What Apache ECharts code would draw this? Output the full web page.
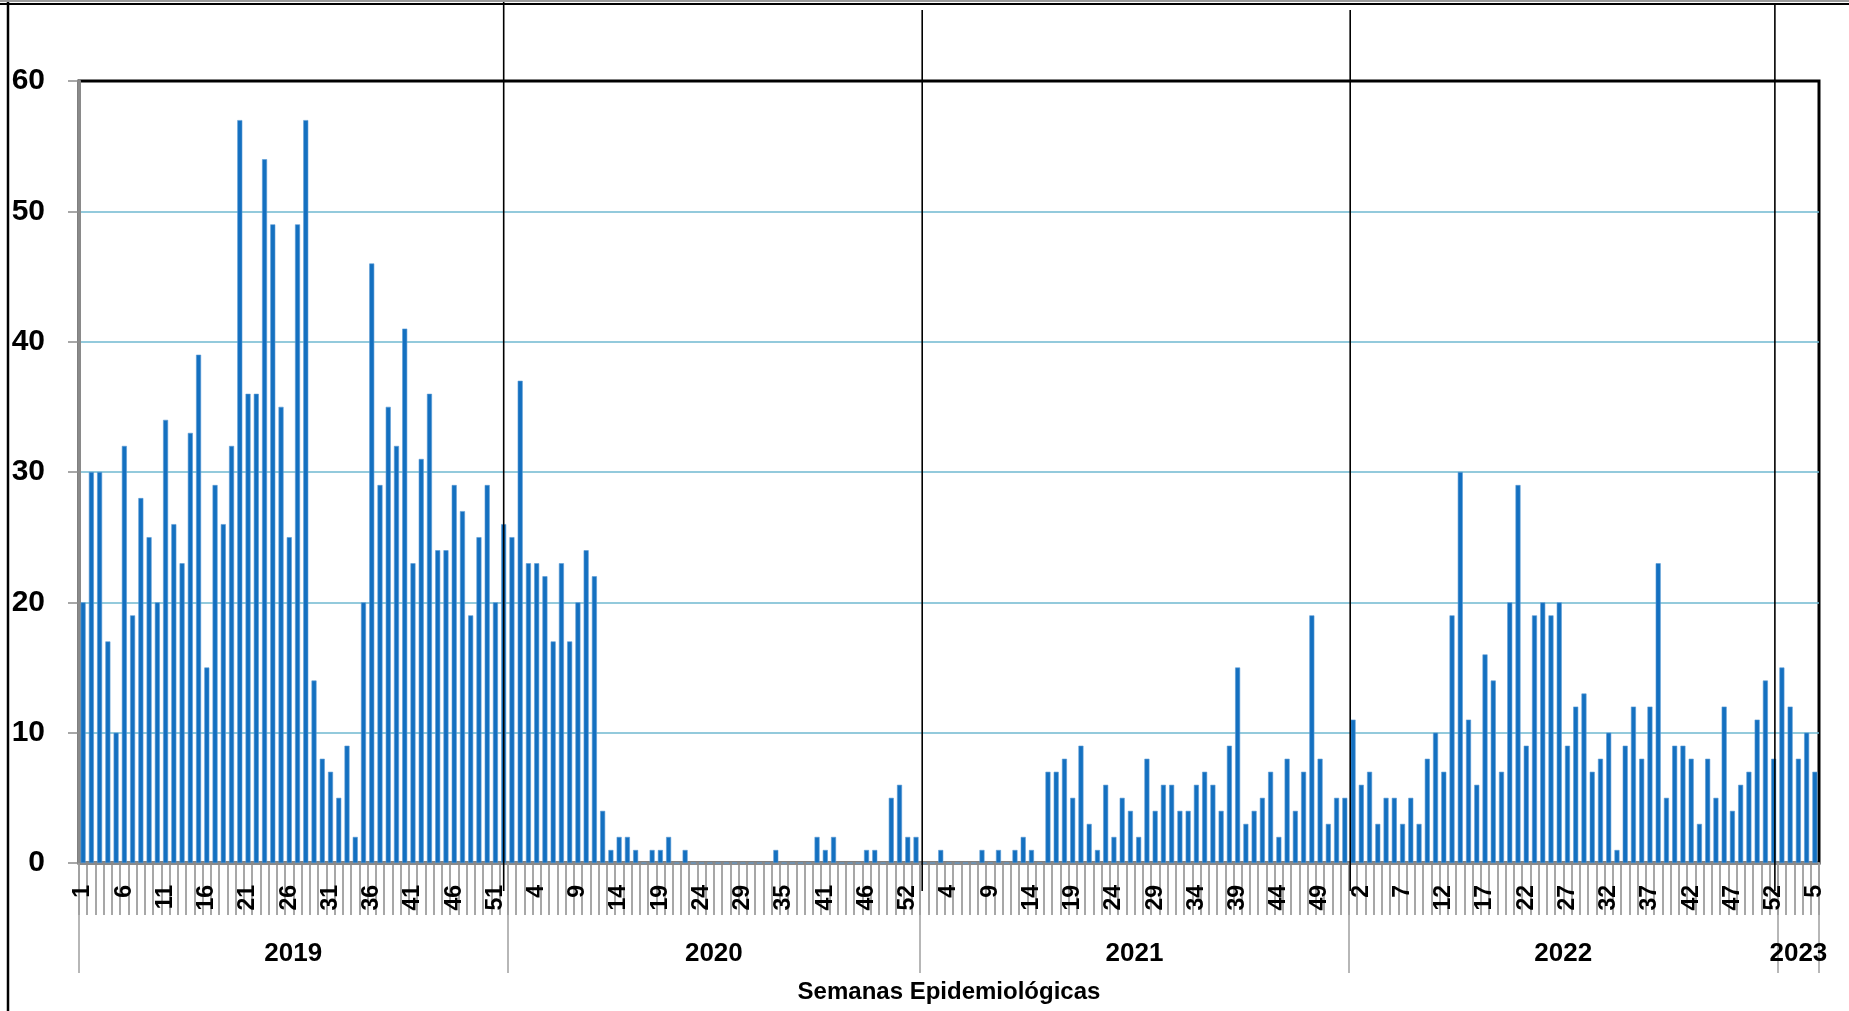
<!DOCTYPE html>
<html>
<head>
<meta charset="utf-8">
<script src="https://cdn.jsdelivr.net/npm/echarts@6/dist/echarts.min.js"></script>
<style>
html,body{margin:0;padding:0;background:#fff;}
#chart{width:1849px;height:1011px;}
</style>
</head>
<body>
<div id="chart"></div>
<script>
// ---- data ----
const years = ['2019', '2020', '2021', '2022', '2023'];
const weeks2019 = [1,2,3,4,5,6,7,8,9,10,11,12,13,14,15,16,17,18,19,20,21,22,23,24,25,26,27,28,29,30,31,32,33,34,35,36,37,38,39,40,41,42,43,44,45,46,47,48,49,50,51,52];
const weeks2020 = [1,2,3,4,5,6,7,8,9,10,11,12,13,14,15,16,17,18,19,20,21,22,23,24,25,26,27,28,29,31,32,33,34,35,36,37,39,40,41,42,43,44,45,46,47,48,50,51,52,53];
const weeks2021 = [1,2,3,4,5,6,7,8,9,10,11,12,13,14,15,16,17,18,19,20,21,22,23,24,25,26,27,28,29,30,31,32,33,34,35,36,37,38,39,40,41,42,43,44,45,46,47,48,49,50,51,52];
const weeks2022 = [1,2,3,4,5,6,7,8,9,10,11,12,13,14,15,16,17,18,19,20,21,22,23,24,25,26,27,28,29,30,31,32,33,34,35,36,37,38,39,40,41,42,43,44,45,46,47,48,49,50,51,52];
const weeks2023 = [1,2,3,4,5];

const cases2019 = [20,30,30,17,10,32,19,28,25,20,34,26,23,33,39,15,29,26,32,57,36,36,54,49,35,25,49,57,14,8,7,5,9,2,20,46,29,35,32,41,23,31,36,24,24,29,27,19,25,29,20,26];
const cases2020 = [25,37,23,23,22,17,23,17,20,24,22,4,1,2,2,1,0,1,1,2,0,1,0,0,0,0,0,0,0,0,0,0,1,0,0,0,0,2,1,2,0,0,0,1,1,0,5,6,2,2];
const cases2021 = [0,0,1,0,0,0,0,1,0,1,0,1,2,1,0,7,7,8,5,9,3,1,6,2,5,4,2,8,4,6,6,4,4,6,7,6,4,9,15,3,4,5,7,2,8,4,7,19,8,3,5,5];
const cases2022 = [11,6,7,3,5,5,3,5,3,8,10,7,19,30,11,6,16,14,7,20,29,9,19,20,19,20,9,12,13,7,8,10,1,9,12,8,12,23,5,9,9,8,3,8,5,12,4,6,7,11,14,8];
const cases2023 = [15,12,8,10,7];

const yTicks = [0, 10, 20, 30, 40, 50, 60];
const xAxisTitle = 'Semanas Epidemiológicas';

// ---- build ----
const weekGroups = [weeks2019, weeks2020, weeks2021, weeks2022, weeks2023];
const caseGroups = [cases2019, cases2020, cases2021, cases2022, cases2023];
const categories = [];
const values = [];
const yearStart = [];
const yearMid = {};
weekGroups.forEach((wk, g) => {
  const start = categories.length;
  yearStart.push(start);
  wk.forEach((w, i) => {
    categories.push(String(w));
    values.push(caseGroups[g][i]);
  });
  const n = wk.length;
  yearMid[start + Math.floor((n - 1) / 2)] = { year: years[g], shift: n % 2 === 0 };
});

const FONT = "'Liberation Sans','Arial',sans-serif";
const GREY = '#8a8a8a';

const chart = echarts.init(document.getElementById('chart'), null, { renderer: 'canvas' });
const option = {
  animation: false,
  backgroundColor: '#fff',
  grid: { left: 79, right: 30, top: 81, bottom: 148, show: true, borderColor: '#000', borderWidth: 3, containLabel: false },
  xAxis: [
    {
      type: 'category',
      data: categories,
      boundaryGap: true,
      axisLine: { show: true, lineStyle: { color: GREY, width: 3 } },
      axisTick: { show: true, interval: 0, length: 52, lineStyle: { color: GREY, width: 1.5 } },
      axisLabel: {
        interval: 4, rotate: 90, margin: 22,
        fontFamily: FONT, fontWeight: 'bold', fontSize: 23, color: '#000'
      },
      splitLine: { show: false }
    },
    {
      type: 'category',
      data: categories,
      boundaryGap: true,
      position: 'bottom',
      axisLine: { show: false },
      axisTick: {
        show: true, length: 110,
        interval: (idx) => yearStart.indexOf(idx) >= 0,
        lineStyle: { color: '#a0a0a0', width: 1.5 }
      },
      axisLabel: {
        margin: 78,
        interval: (idx) => yearMid[idx] !== undefined,
        formatter: (val, idx) => {
          const m = yearMid[idx];
          if (!m) return '';
          return m.shift ? '{s|' + m.year + '}' : '{c|' + m.year + '}';
        },
        rich: {
          s: { padding: [0, 0, 0, 8], fontFamily: FONT, fontWeight: 'bold', fontSize: 26, color: '#000' },
          c: { fontFamily: FONT, fontWeight: 'bold', fontSize: 26, color: '#000' }
        }
      },
      name: xAxisTitle,
      nameLocation: 'middle',
      nameGap: 117,
      nameTextStyle: { fontFamily: FONT, fontWeight: 'bold', fontSize: 24, color: '#000' }
    }
  ],
  yAxis: {
    type: 'value',
    min: yTicks[0],
    max: yTicks[yTicks.length - 1],
    interval: yTicks[1] - yTicks[0],
    axisLine: { show: true, lineStyle: { color: GREY, width: 3 } },
    axisTick: { show: true, length: 11, lineStyle: { color: GREY, width: 1.5 } },
    axisLabel: { margin: 34, fontFamily: FONT, fontWeight: 'bold', fontSize: 30, color: '#000' },
    splitLine: { show: true, showMinLine: false, showMaxLine: false, lineStyle: { color: '#6fb9d1', width: 1.5 } }
  },
  series: [{
    type: 'bar',
    data: values,
    barWidth: 5,
    itemStyle: { color: '#1470c0', borderColor: '#5b9bd5', borderWidth: 0.6 }
  }]
};
chart.setOption(option);

// year separator lines (hand-drawn in original), placed by category index through the axis scale
const sepIdx = [51.0, 101.75, 153.65, 205.15];
const sepTop = [0, 10, 10, 4];
const x0 = chart.convertToPixel({ xAxisIndex: 0 }, 0);
const band = chart.convertToPixel({ xAxisIndex: 0 }, 1) - x0;
const yBottom = chart.convertToPixel({ yAxisIndex: 0 }, 0) + 28;
const graphics = sepIdx.map((s, i) => ({
  type: 'line', z: 100,
  shape: { x1: x0 + s * band, y1: sepTop[i], x2: x0 + s * band, y2: yBottom },
  style: { stroke: '#000', lineWidth: 1.6 }
}));
// outer frame (left and top edges)
graphics.push({ type: 'line', z: 100, shape: { x1: 8, y1: 0, x2: 8, y2: 1011 }, style: { stroke: '#000', lineWidth: 2.5 } });
graphics.push({ type: 'line', z: 100, shape: { x1: 0, y1: 1, x2: 1849, y2: 1 }, style: { stroke: '#9a9a9a', lineWidth: 2 } });
graphics.push({ type: 'line', z: 100, shape: { x1: 0, y1: 4, x2: 1849, y2: 4 }, style: { stroke: '#000', lineWidth: 2 } });
chart.setOption({ graphic: graphics });
</script>
</body>
</html>
